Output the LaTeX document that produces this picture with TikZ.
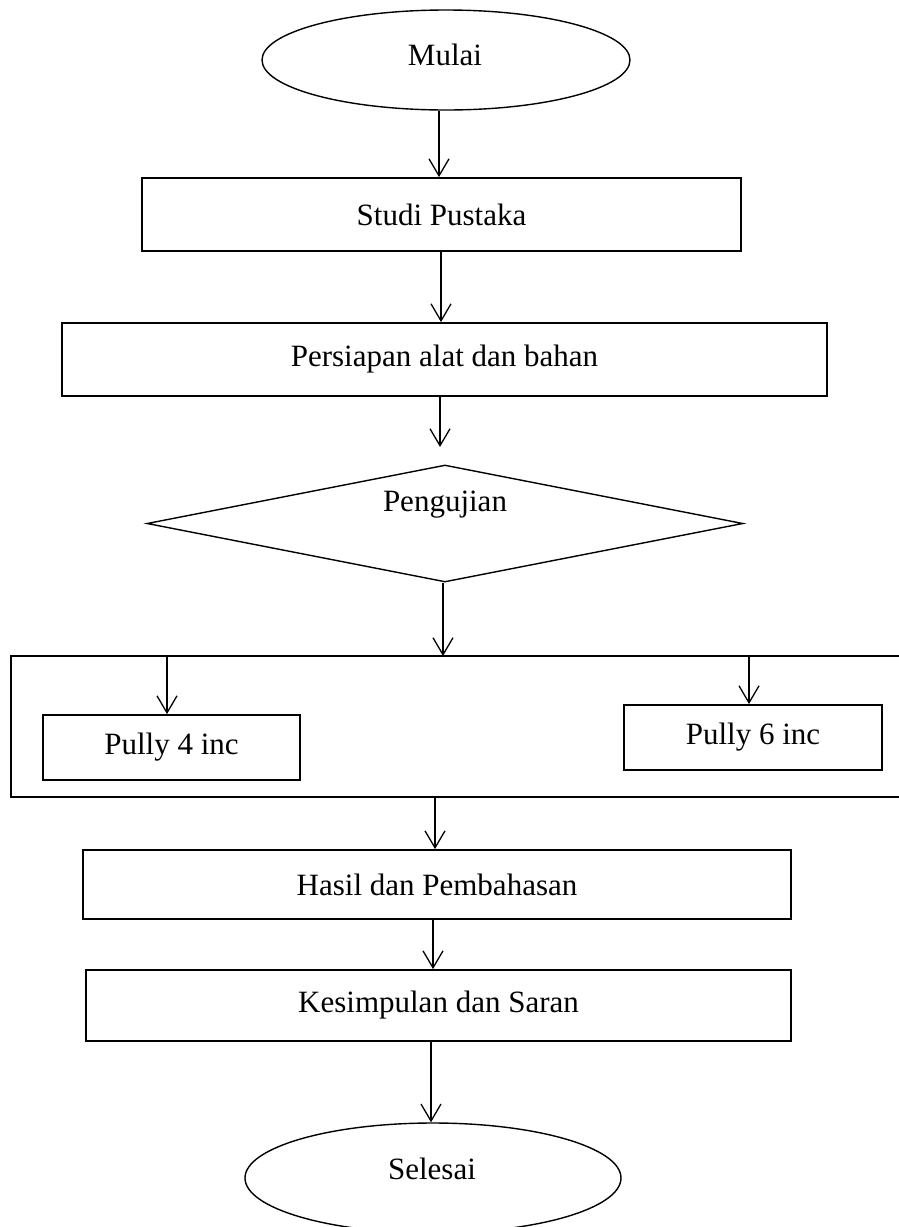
\documentclass[tikz,border=0pt]{standalone}
\usepackage{fontspec}
\setmainfont{Liberation Serif}
\usetikzlibrary{shapes.geometric,arrows.meta}
\begin{document}
\begin{tikzpicture}[x=1pt,y=-1pt,
  txt/.style={font=\fontsize{31}{37}\selectfont, inner sep=0pt},
  procbox/.style={draw, line width=1.8pt, inner sep=0pt, font=\fontsize{31}{37}\selectfont},
  term/.style={draw, ellipse, line width=1.4pt, inner sep=0pt},
  decis/.style={draw, diamond, line width=1.4pt, inner sep=0pt},
  frame/.style={line width=1.8pt},
  flow/.style={line width=1.3pt, -{Straight Barb[length=17pt,width=20pt,line width=1.3pt]}}
]
\useasboundingbox (0,0) rectangle (898,1227);

% terminals
\node[term, minimum width=368pt, minimum height=100pt] (mulai) at (446,60) {};
\node[txt, anchor=base] (mulaitxt) at (445,65) {Mulai};

\node[procbox, minimum width=599pt, minimum height=73pt] (studi) at (441.5,214.5) {Studi Pustaka};
\node[procbox, minimum width=765pt, minimum height=73pt] (persiapan) at (444.5,359.5) {Persiapan alat dan bahan};

\node[decis, minimum width=596pt, minimum height=117pt] (uji) at (445,523.5) {};
\node[txt, anchor=base] (ujitxt) at (445,511) {Pengujian};

% frame
\coordinate (ftr) at (900,656);
\coordinate (ftl) at (11,656);
\coordinate (fbl) at (11,797);
\coordinate (fbr) at (900,797);
\draw[frame] (ftr) -- (ftl) -- (fbl) -- (fbr);

\node[procbox, minimum width=257pt, minimum height=65pt] (p4) at (171.5,747.5) {Pully 4 inc};
\node[procbox, minimum width=258pt, minimum height=65pt] (p6) at (753,737.5) {Pully 6 inc};

\node[procbox, minimum width=708pt, minimum height=69pt] (hasil) at (437,884.5) {Hasil dan Pembahasan};
\node[procbox, minimum width=705pt, minimum height=71pt] (kes) at (438.5,1005.5) {Kesimpulan dan Saran};

\node[term, minimum width=376pt, minimum height=110pt] (selesai) at (433,1178) {};
\node[txt, anchor=base] (selesaitxt) at (432,1179) {Selesai};

% x positions of connectors
\coordinate (xa) at (439,0);
\coordinate (xb) at (441,0);
\coordinate (xc) at (440,0);
\coordinate (xd) at (443,0);
\coordinate (xe) at (167,0);
\coordinate (xf) at (749,0);
\coordinate (xg) at (435,0);
\coordinate (xh) at (433,0);
\coordinate (xi) at (431,0);
\coordinate (gapend) at (440,447);

\draw[flow] (mulai.south -| xa) -- (studi.north -| xa);
\draw[flow] (studi.south -| xb) -- (persiapan.north -| xb);
\draw[flow] (persiapan.south -| xc) -- (gapend);
\draw[flow] (uji.south -| xd) -- (ftl -| xd);
\draw[flow] (ftl -| xe) -- (p4.north -| xe);
\draw[flow] (ftl -| xf) -- (p6.north -| xf);
\draw[flow] (fbl -| xg) -- (hasil.north -| xg);
\draw[flow] (hasil.south -| xh) -- (kes.north -| xh);
\draw[flow] (kes.south -| xi) -- (selesai.north -| xi);
\end{tikzpicture}
\end{document}
